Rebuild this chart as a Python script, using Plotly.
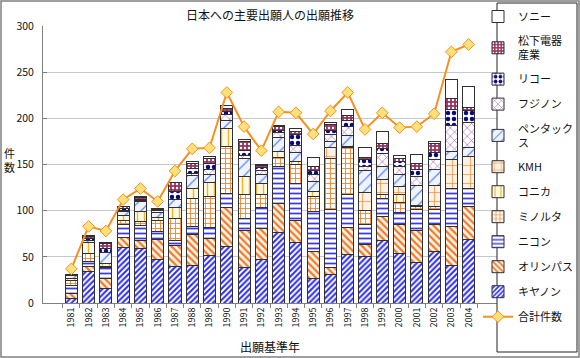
import plotly.graph_objects as go

years = [str(y) for y in range(1981, 2005)]

canon      = [5, 34, 16, 60, 59, 47, 40, 41, 51, 61, 38, 47, 76, 66, 26, 31, 53, 50, 68, 54, 44, 56, 41, 69]
olympus    = [5, 6, 10, 11, 9, 22, 22, 33, 19, 42, 41, 34, 32, 23, 30, 7, 29, 13, 26, 31, 34, 29, 42, 35]
nikon      = [9, 5, 12, 14, 16, 8, 6, 9, 12, 16, 13, 22, 40, 40, 43, 63, 36, 22, 19, 13, 23, 16, 41, 20]
minolta    = [5, 9, 2, 4, 4, 12, 24, 30, 33, 50, 25, 14, 10, 21, 16, 56, 50, 15, 4, 11, 3, 3, 0, 0]
konica     = [2, 11, 3, 6, 11, 4, 11, 11, 15, 20, 20, 12, 6, 3, 6, 0, 0, 0, 0, 8, 2, 0, 0, 0]
kmh        = [0, 0, 0, 0, 0, 0, 0, 0, 0, 0, 0, 0, 0, 0, 0, 11, 2, 20, 17, 9, 0, 23, 31, 35]
pentax     = [4, 3, 12, 4, 11, 5, 9, 14, 9, 9, 20, 10, 15, 10, 11, 7, 11, 24, 14, 13, 21, 18, 9, 9]
fujinon    = [0, 0, 0, 1, 1, 0, 0, 2, 6, 6, 3, 5, 6, 8, 7, 8, 10, 4, 14, 9, 10, 10, 28, 27]
ricoh      = [0, 2, 4, 2, 1, 2, 9, 6, 6, 3, 5, 3, 2, 12, 4, 4, 7, 7, 5, 5, 8, 8, 18, 14]
matsushita = [0, 2, 5, 3, 2, 1, 9, 5, 6, 4, 10, 2, 4, 3, 5, 6, 5, 3, 6, 4, 6, 10, 11, 3]
sony       = [1, 1, 1, 0, 1, 1, 1, 2, 2, 3, 2, 1, 1, 3, 10, 3, 7, 10, 13, 3, 10, 2, 21, 23]
total      = [37, 83, 78, 112, 124, 110, 143, 167, 168, 228, 191, 165, 207, 206, 183, 208,
              228, 188, 206, 190, 191, 205, 272, 280]

series = [
    ("キヤノン", canon, dict(shape="/", fgcolor="#2b2bef", bgcolor="#ffffff", size=4, solidity=0.5), 11),
    ("オリンパス", olympus, dict(shape="\\", fgcolor="#f07a2a", bgcolor="#fff3e6", size=5, solidity=0.45), 10),
    ("ニコン", nikon, dict(shape="-", fgcolor="#3a3ae0", bgcolor="#ffffff", size=5, solidity=0.35), 9),
    ("ミノルタ", minolta, dict(shape="+", fgcolor="#f07a20", bgcolor="#ffffff", size=5, solidity=0.3), 8),
    ("コニカ", konica, dict(shape="|", fgcolor="#f2b035", bgcolor="#fffbe0", size=7, solidity=0.2), 7),
    ("KMH", kmh, dict(shape="+", fgcolor="#f08a3a", bgcolor="#fff2e4", size=9, solidity=0.15), 6),
    ("ペンタック<br>ス", pentax, dict(shape="/", fgcolor="#5a86f0", bgcolor="#eef3ff", size=8, solidity=0.15), 5),
    ("フジノン", fujinon, dict(shape="x", fgcolor="#a55fb5", bgcolor="#ffffff", size=6, solidity=0.2), 4),
    ("リコー", ricoh, dict(shape=".", fgcolor="#0a0a80", bgcolor="#ffffff", size=6, solidity=0.45), 3),
    ("松下電器<br>産業", matsushita, dict(shape=".", fgcolor="#ffffff", bgcolor="#9a3060", size=4, solidity=0.3), 2),
    ("ソニー", sony, dict(shape="", fgcolor="#ffffff", bgcolor="#ffffff"), 1),
]

fig = go.Figure()
for name, vals, pat, rank in series:
    marker = dict(color=pat["bgcolor"], line=dict(color="#303030", width=1))
    if pat["shape"]:
        marker["pattern"] = dict(shape=pat["shape"], fgcolor=pat["fgcolor"], bgcolor=pat["bgcolor"],
                                 size=pat["size"], solidity=pat["solidity"], fillmode="replace")
    fig.add_trace(go.Bar(x=years, y=vals, name=name, marker=marker,
                         legendrank=rank, legendgroup=name))

fig.add_trace(go.Scatter(x=years, y=total, name="合計件数", mode="lines+markers",
                         line=dict(color="#f7901e", width=2),
                         marker=dict(symbol="diamond", size=9, color="#ffe07a",
                                     line=dict(color="#f7901e", width=1)),
                         legendrank=12, legendgroup="total"))

FONT = "Noto Sans CJK JP, Noto Sans, sans-serif"
L, R, T, B = 43, 497, 26, 303
PW = 580 - L          # paper width (right margin 0)
H = B - T

def px(x):
    return (x - L) / PW

def py(y):
    return (B - y) / H

fig.update_layout(
    width=580, height=358,
    margin=dict(l=L, r=0, t=T, b=358 - B, autoexpand=False),
    paper_bgcolor="white", plot_bgcolor="white",
    barmode="stack", bargap=0.3,
    font=dict(family=FONT, size=10, color="#111111"),
    showlegend=True,
    legend=dict(x=px(478), xanchor="left", y=py(2), yanchor="top",
                traceorder="grouped", tracegroupgap=6, maxheight=1,
                bgcolor="rgba(0,0,0,0)", borderwidth=0,
                font=dict(family=FONT, size=11, color="#111111"),
                itemclick=False),
    xaxis=dict(domain=[0, px(R)], showline=True, linecolor="#808080", linewidth=1, ticks="outside",
               ticklen=4, tickcolor="#808080", tickangle=-90, tickson="boundaries",
               tickfont=dict(family=FONT, size=9), showgrid=False, fixedrange=True),
    yaxis=dict(range=[0, 300], dtick=50, showline=True, linecolor="#808080", linewidth=1,
               ticks="inside", ticklen=4, tickcolor="#808080", ticklabelstandoff=6,
               gridcolor="#c8c8c8", gridwidth=1,
               tickfont=dict(family=FONT, size=10.5), zeroline=False, fixedrange=True),
    shapes=[
        dict(type="rect", xref="paper", yref="paper", x0=px(1), x1=px(579), y0=py(357), y1=py(1),
             line=dict(color="#808080", width=1.5), layer="below"),
        dict(type="rect", xref="paper", yref="paper", x0=px(497), x1=px(577), y0=py(352), y1=py(3),
             line=dict(color="#222222", width=1), layer="above"),
    ],
    annotations=[
        dict(text="日本への主要出願人の出願推移", xref="paper", yref="paper",
             x=px(270), y=py(14), xanchor="center", yanchor="middle",
             showarrow=False, font=dict(family=FONT, size=12)),
        dict(text="件<br>数", xref="paper", yref="paper", x=px(9), y=py(160),
             xanchor="center", yanchor="middle",
             showarrow=False, font=dict(family=FONT, size=11)),
        dict(text="出願基準年", xref="paper", yref="paper", x=px(270), y=py(346),
             xanchor="center", yanchor="middle",
             showarrow=False, font=dict(family=FONT, size=12)),
    ],
)

fig.write_html("out.html")
